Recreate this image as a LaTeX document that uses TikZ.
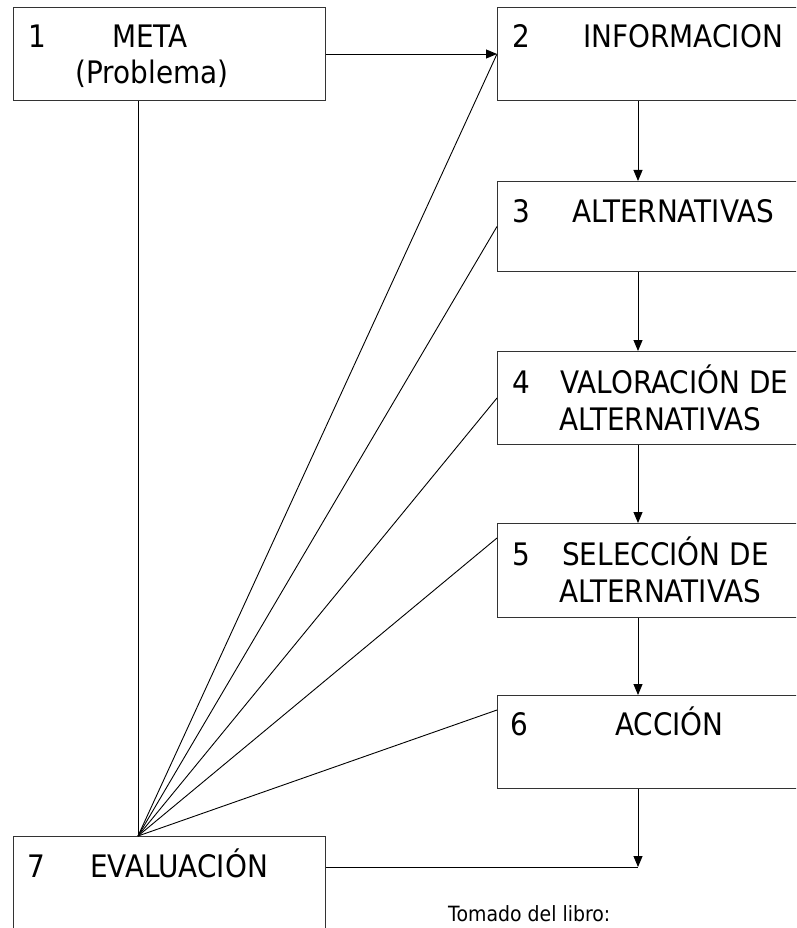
\documentclass[tikz,border=0pt]{standalone}
\usepackage{fontspec}
\setmainfont{DejaVu Sans}[FakeStretch=0.9]
\usepackage{tikz}
\usetikzlibrary{arrows.meta}

\begin{document}
\begin{tikzpicture}[x=1pt,y=-1pt,
    box/.style={draw=black!80,line width=1pt,rectangle,inner sep=0pt,anchor=north west},
    txt/.style={inner sep=0pt,anchor=base west,font=\fontsize{31}{37}\selectfont},
    arr/.style={-{Triangle[length=11pt,width=9pt]},line width=0.9pt}]
    \useasboundingbox (0,0) rectangle (796,928);
    \clip (0,0) rectangle (796,928);
    % Kaesten
    \node[box,minimum width=312pt,minimum height=93pt] (b1) at (13,7) {};    %Meta
    \node[box,minimum width=310pt,minimum height=93pt] (b2) at (497,7) {};   %Informacion
    \node[box,minimum width=310pt,minimum height=90pt] (b3) at (497,181) {}; %Alternativas
    \node[box,minimum width=310pt,minimum height=93pt] (b4) at (497,351) {}; %Valoracion
    \node[box,minimum width=310pt,minimum height=94pt] (b5) at (497,523) {}; %Seleccion
    \node[box,minimum width=310pt,minimum height=93pt] (b6) at (497,695) {}; %Accion
    \node[box,minimum width=312pt,minimum height=100pt] (b7) at (13,836) {}; %Evaluacion
    % Texte
    \node[txt] (n1) at (28,48) {1};
    \node[txt,anchor=base] (t1) at (150,48) {META};
    \node[txt,anchor=base] (t1b) at (152,84) {(Problema)};
    \node[txt] (n2) at (512,48) {2};
    \node[txt] (t2) at (583,48) {INFORMACION};
    \node[txt] (n3) at (512,222) {3};
    \node[txt] (t3) at (572,222) {ALTERNATIVAS};
    \node[txt] (n4) at (512,393) {4};
    \node[txt] (t4) at (560,393) {VALORACIÓN DE};
    \node[txt] (t4b) at (559,430) {ALTERNATIVAS};
    \node[txt] (n5) at (512,565) {5};
    \node[txt] (t5) at (562,565) {SELECCIÓN DE};
    \node[txt] (t5b) at (559,602) {ALTERNATIVAS};
    \node[txt] (n6) at (510,735) {6};
    \node[txt] (t6) at (615,735) {ACCIÓN};
    \node[txt] (n7) at (27,877) {7};
    \node[txt] (t7) at (90,877) {EVALUACIÓN};
    \node[txt,font=\fontsize{21}{25}\selectfont] (src) at (448,921) {Tomado del libro:};
    % Verbindungen
    \coordinate (col) at (638,0);    %Spalte der Pfeile
    \coordinate (hub) at (138,836);  %Fusspunkt der Strahlen
    \coordinate (end) at (638,867);  %Ende unten rechts
    \draw[arr] (b1.east) -- (b2.west);
    \foreach \a/\b in {b2/b3,b3/b4,b4/b5,b5/b6}
    {
      \draw[arr] (\a.south -| col) -- (\b.north -| col);
    };
    \draw[arr] (b6.south -| col) -- (end);
    \draw[line width=0.9pt] (b7.east |- end) -- (end);
    \draw[line width=0.9pt] (b1.south -| hub) -- (hub);
    \draw[line width=0.9pt] (hub) -- (b2.west);
    \draw[line width=0.9pt] (hub) -- (b3.west);
    \draw[line width=0.9pt] (hub) -- (b4.west);
    \draw[line width=0.9pt] (hub) -- ([yshift=-15pt]b5.north west);
    \draw[line width=0.9pt] (hub) -- ([yshift=-15pt]b6.north west);
  \end{tikzpicture}
\end{document}
